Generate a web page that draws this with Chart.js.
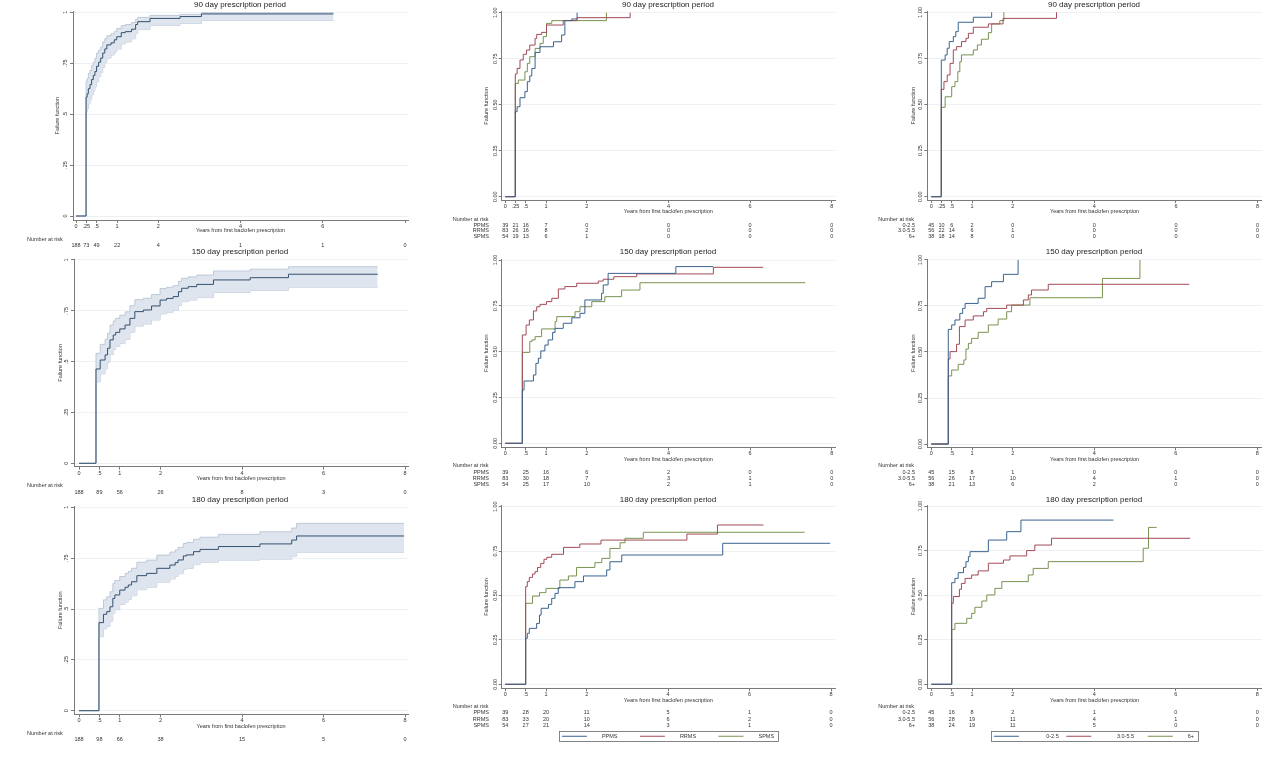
<!DOCTYPE html>
<html>
<head>
<meta charset="utf-8">
<title>Time to baclofen discontinuation</title>
<script src="https://cdn.jsdelivr.net/npm/chart.js@4.4.1/dist/chart.umd.min.js"></script>
<style>
  html, body { margin: 0; padding: 0; background: #fff; }
  body { width: 1280px; height: 759px; position: relative; overflow: hidden; }
  canvas { position: absolute; }
</style>
</head>
<body>
<script>
// ---- tick positions and labels ----
const ticks90 = [0, 0.25, 0.5, 1, 2, 4, 6, 8];
const tickLabels90 = ['0', '.25', '.5', '1', '2', '4', '6', '8'];
const tickLabels90First = ['0', '.25', '.5', '1', '2', '4', '6', ''];
const ticksLong = [0, 0.5, 1, 2, 4, 6, 8];
const tickLabelsLong = ['0', '.5', '1', '2', '4', '6', '8'];
const yTicks = [0, 0.25, 0.5, 0.75, 1];
const yLabelsShort = ['0', '.25', '.5', '.75', '1'];
const yLabelsLong = ['0.00', '0.25', '0.50', '0.75', '1.00'];
const titles = ['90 day prescription period', '150 day prescription period', '180 day prescription period'];
const msTypes = ['PPMS', 'RRMS', 'SPMS'];
const groups = ['0-2.5', '3.0-5.5', '6+'];

// ---- all patients (failure function with 95% CI) ----
const allTime90 = [0, 0.245, 0.27, 0.3, 0.34, 0.38, 0.42, 0.46, 0.5, 0.55, 0.6, 0.65, 0.7, 0.75, 0.85, 0.93, 0.99, 1.1, 1.2, 1.35, 1.45, 1.5, 1.8, 2.53, 3.05, 6.26];
const allFail90 = [0, .583, .6, .625, .645, .67, .69, .709, .735, .755, .775, .8, .82, .84, .85, .865, .88, .9, .905, .917, .94, .954, .97, .979, .992, .992];
const allHi90 = [0, .66, .675, .70, .715, .74, .755, .775, .80, .815, .83, .855, .87, .885, .895, .905, .92, .935, .94, .95, .965, .975, .985, .99, .998, .998];
const allLo90 = [0, .51, .525, .55, .57, .595, .615, .635, .66, .685, .705, .73, .755, .775, .79, .805, .82, .845, .855, .87, .895, .915, .935, .945, .96, .96];

const allTime150 = [0, .417, .52, .64, .7, .76, .84, .9, 1.0, 1.13, 1.25, 1.37, 1.58, 1.78, 1.99, 2.15, 2.31, 2.44, 2.52, 2.68, 2.89, 3.3, 4.2, 5.14, 7.33];
const allFail150 = [0, .464, .508, .533, .566, .607, .631, .644, .661, .68, .713, .746, .754, .774, .803, .811, .82, .844, .861, .869, .88, .902, .913, .93, .93];
const allHi150 = [0, .541, .585, .61, .64, .68, .70, .713, .728, .745, .775, .805, .812, .83, .86, .866, .874, .895, .91, .917, .926, .946, .955, .967, .967];
const allLo150 = [0, .40, .44, .465, .495, .535, .56, .575, .59, .61, .645, .675, .685, .705, .735, .743, .752, .777, .795, .803, .815, .84, .85, .866, .866];

const allTime180 = [0, .49, .6, .68, .76, .83, .88, 1.0, 1.13, 1.21, 1.29, 1.42, 1.66, 1.91, 2.23, 2.36, 2.43, 2.56, 2.64, 2.81, 2.97, 3.42, 4.44, 5.22, 5.34, 7.98];
const allFail180 = [0, .433, .474, .487, .511, .552, .569, .593, .607, .618, .634, .664, .675, .70, .716, .728, .741, .761, .766, .782, .793, .807, .82, .839, .859, .859];
const allHi180 = [0, .503, .545, .56, .585, .625, .64, .66, .675, .685, .70, .73, .74, .765, .78, .79, .803, .822, .827, .843, .853, .867, .88, .898, .921, .921];
const allLo180 = [0, .364, .402, .415, .44, .48, .497, .522, .535, .548, .565, .595, .607, .632, .648, .66, .673, .695, .70, .718, .73, .74, .745, .76, .779, .779];

// ---- by MS type ----
const ppmsTime90 = [0, .245, .29, .36, .48, .54, .6, .65, .73, .85, 1.18, 1.38, 1.46, 1.63, 1.76];
const ppmsFail90 = [0, .462, .489, .538, .571, .625, .656, .697, .784, .815, .842, .879, .957, .966, 1.0];
const rrmsTime90 = [0, .245, .29, .36, .44, .52, .6, .73, .77, .89, 1.01, 1.42, 1.76, 3.06];
const rrmsFail90 = [0, .667, .697, .743, .774, .797, .824, .86, .882, .893, .933, .957, .973, 1.0];
const spmsTime90 = [0, .245, .32, .48, .54, .6, .73, .85, .93, 1.01, 1.14, 2.48];
const spmsFail90 = [0, .616, .634, .679, .725, .761, .806, .833, .87, .942, .957, 1.0];

const ppmsTime150 = [0, .417, .46, .69, .75, .81, .87, .97, 1.05, 1.16, 1.22, 1.42, 1.63, 1.83, 1.95, 2.36, 2.4, 2.52, 4.18, 5.1];
const ppmsFail150 = [0, .291, .34, .373, .436, .464, .504, .536, .564, .605, .627, .655, .685, .709, .782, .818, .864, .927, .964, .964];
const rrmsTime150 = [0, .417, .51, .59, .69, .77, .85, 1.01, 1.14, 1.3, 1.46, 1.75, 2.28, 2.4, 2.66, 3.22, 5.1, 6.32];
const rrmsFail150 = [0, .591, .645, .673, .722, .745, .758, .773, .791, .842, .855, .873, .885, .895, .909, .924, .96, .96];
const spmsTime150 = [0, .417, .6, .65, .73, .89, 1.22, 1.26, 1.71, 1.83, 2.12, 2.44, 2.85, 3.3, 7.35];
const spmsFail150 = [0, .496, .555, .564, .582, .624, .664, .691, .718, .745, .773, .80, .836, .876, .876];

const ppmsTime180 = [0, .5, .54, .59, .77, .84, .88, 1.06, 1.14, 1.22, 1.3, 1.71, 1.92, 2.49, 2.57, 2.86, 5.34, 7.98];
const ppmsFail180 = [0, .259, .287, .315, .343, .39, .428, .45, .484, .512, .544, .578, .61, .644, .69, .728, .794, .794];
const rrmsTime180 = [0, .5, .54, .59, .67, .73, .79, .87, .95, 1.02, 1.14, 1.43, 1.83, 2.35, 4.46, 5.21, 6.34];
const rrmsFail180 = [0, .55, .578, .602, .621, .634, .658, .681, .704, .715, .732, .771, .79, .812, .846, .897, .897];
const spmsTime180 = [0, .5, .67, .84, 1.0, 1.34, 1.55, 1.75, 2.2, 2.37, 2.57, 2.82, 2.94, 3.39, 7.35];
const spmsFail180 = [0, .456, .497, .516, .54, .587, .61, .658, .685, .709, .765, .797, .822, .856, .856];

// ---- by group (0-2.5, 3.0-5.5, 6+) ----
const grp1Time90 = [0, .245, .34, .39, .44, .54, .6, .66, 1.03, 1.48];
const grp1Fail90 = [0, .741, .769, .805, .841, .868, .895, .946, .973, 1.0];
const grp2Time90 = [0, .245, .31, .39, .46, .54, .62, .74, .85, .91, 1.03, 1.4, 1.76, 3.07];
const grp2Fail90 = [0, .582, .624, .66, .723, .796, .814, .841, .859, .886, .919, .937, .967, 1.0];
const grp3Time90 = [0, .245, .34, .5, .58, .65, .7, .74, 1.03, 1.13, 1.23, 1.4, 1.48, 1.68, 1.78];
const grp3Fail90 = [0, .485, .542, .597, .624, .678, .732, .769, .796, .823, .854, .89, .937, .955, 1.0];

const grp1Time150 = [0, .417, .5, .58, .7, .77, .83, 1.15, 1.32, 1.48, 1.77, 2.13];
const grp1Fail150 = [0, .623, .647, .674, .71, .737, .764, .792, .855, .882, .922, 1.0];
const grp2Time150 = [0, .417, .46, .62, .69, .83, 1.03, 1.28, 1.36, 1.85, 2.26, 2.38, 2.46, 2.87, 6.33];
const grp2Fail150 = [0, .462, .502, .542, .638, .674, .696, .719, .737, .755, .783, .81, .837, .868, .868];
const grp3Time150 = [0, .417, .5, .66, .8, .85, .91, .99, 1.15, 1.4, 1.64, 1.85, 1.97, 2.42, 4.2, 5.12];
const grp3Fail150 = [0, .37, .402, .433, .457, .516, .547, .574, .607, .647, .679, .719, .755, .795, .9, 1.0];

const grp1Time180 = [0, .5, .58, .66, .79, .85, .91, .95, 1.4, 1.85, 2.2, 4.47];
const grp1Fail180 = [0, .57, .594, .626, .656, .688, .716, .744, .809, .856, .921, .921];
const grp2Time180 = [0, .5, .54, .69, .74, .83, .99, 1.15, 1.4, 1.77, 1.93, 2.34, 2.54, 2.95, 6.35];
const grp2Fail180 = [0, .454, .492, .533, .566, .594, .613, .636, .679, .697, .72, .75, .781, .819, .819];
const grp3Time180 = [0, .5, .58, .87, .99, 1.07, 1.24, 1.36, 1.56, 1.73, 2.38, 2.5, 2.87, 5.2, 5.33, 5.53];
const grp3Fail180 = [0, .308, .342, .37, .398, .432, .467, .501, .538, .576, .613, .65, .688, .763, .88, .88];

// ---- number at risk ----
const riskAll90 = [188, 73, 49, 22, 4, 1, 1, 0];
const riskAll150 = [188, 89, 56, 26, 8, 3, 0];
const riskAll180 = [188, 98, 66, 38, 15, 5, 0];
const riskPpms90 = [39, 21, 16, 7, 0, 0, 0, 0];
const riskRrms90 = [83, 26, 16, 8, 2, 0, 0, 0];
const riskSpms90 = [54, 19, 13, 6, 1, 0, 0, 0];
const riskPpms150 = [39, 25, 16, 6, 2, 0, 0];
const riskRrms150 = [83, 30, 18, 7, 3, 1, 0];
const riskSpms150 = [54, 25, 17, 10, 2, 1, 0];
const riskPpms180 = [39, 28, 20, 11, 5, 1, 0];
const riskRrms180 = [83, 33, 20, 10, 6, 2, 0];
const riskSpms180 = [54, 27, 21, 14, 3, 1, 0];
const riskGrp1_90 = [45, 10, 6, 2, 0, 0, 0, 0];
const riskGrp2_90 = [56, 22, 14, 6, 1, 0, 0, 0];
const riskGrp3_90 = [38, 18, 14, 8, 0, 0, 0, 0];
const riskGrp1_150 = [45, 15, 8, 1, 0, 0, 0];
const riskGrp2_150 = [56, 26, 17, 10, 4, 1, 0];
const riskGrp3_150 = [38, 21, 13, 6, 2, 0, 0];
const riskGrp1_180 = [45, 16, 8, 2, 1, 0, 0];
const riskGrp2_180 = [56, 28, 19, 11, 4, 1, 0];
const riskGrp3_180 = [38, 24, 19, 11, 5, 0, 0];

// ---- styles ----
const FONT = "'Liberation Sans', Arial, Helvetica, sans-serif";
const SMALL = 5.5;
const TITLE = 8;
const TEXT = '#333';
const AXIS = '#7a7a7a';
const MAIN = '#34506f';
const BLUE = '#3a628f';
const RED = '#a24a57';
const GREEN = '#7a9250';

Chart.defaults.font.family = FONT;
Chart.defaults.color = TEXT;

const measureCtx = document.createElement('canvas').getContext('2d');
const textWidth = (str, size) => {
    measureCtx.font = size + 'px ' + FONT;
    return measureCtx.measureText(str).width;
};

const toPoints = (times, values) => times.map((t, i) => ({ x: t, y: values[i] }));

const msSeries = (pt, pf, rt, rf, st, sf) => [
    { label: msTypes[0], time: pt, fail: pf, color: BLUE },
    { label: msTypes[1], time: rt, fail: rf, color: RED },
    { label: msTypes[2], time: st, fail: sf, color: GREEN }
];
const grpSeries = (at, af, bt, bf, ct, cf) => [
    { label: groups[0], time: at, fail: af, color: BLUE },
    { label: groups[1], time: bt, fail: bf, color: RED },
    { label: groups[2], time: ct, fail: cf, color: GREEN }
];

// page-pixel layout of each of the nine panels
const panels = [
    // row 1
    { left: 0, top: 0, width: 480, height: 250, title: titles[0], titleY: 5,
      plot: { left: 73, right: 408, top: 11.3, bottom: 220 }, x0: 76, x8: 405, y0: 216, y1: 12.3,
      xTickY: 226, xTitleY: 230.7, yTitleX: 57.3, yTickX: 65,
      xTicks: ticks90, xLabels: tickLabels90First, yLabels: yLabelsShort,
      series: [{ time: allTime90, fail: allFail90, hi: allHi90, lo: allLo90, color: MAIN }],
      risk: { labelX: 27, labelY: 239, rowY: [245], rows: [{ values: riskAll90 }] } },
    { left: 440, top: 0, width: 456, height: 250, title: titles[0], titleY: 5,
      plot: { left: 501.7, right: 835, top: 11.7, bottom: 200 }, x0: 505.3, x8: 831.7, y0: 196.7, y1: 12.7,
      xTickY: 206, xTitleY: 211.3, yTitleX: 486.7, yTickX: 495,
      xTicks: ticks90, xLabels: tickLabels90, yLabels: yLabelsLong,
      series: msSeries(ppmsTime90, ppmsFail90, rrmsTime90, rrmsFail90, spmsTime90, spmsFail90),
      risk: { labelX: 452.7, labelY: 219, nameRight: 489, rowY: [225, 230.7, 236.7],
              rows: [{ name: msTypes[0], values: riskPpms90 }, { name: msTypes[1], values: riskRrms90 }, { name: msTypes[2], values: riskSpms90 }] } },
    { left: 860, top: 0, width: 468, height: 250, title: titles[0], titleY: 5,
      plot: { left: 927.3, right: 1261.7, top: 11.3, bottom: 200 }, x0: 931.3, x8: 1257.5, y0: 196.7, y1: 12.3,
      xTickY: 206, xTitleY: 211.3, yTitleX: 913.3, yTickX: 920,
      xTicks: ticks90, xLabels: tickLabels90, yLabels: yLabelsLong,
      series: grpSeries(grp1Time90, grp1Fail90, grp2Time90, grp2Fail90, grp3Time90, grp3Fail90),
      risk: { labelX: 878.3, labelY: 219, nameRight: 915, rowY: [225, 230.7, 236.7],
              rows: [{ name: groups[0], values: riskGrp1_90 }, { name: groups[1], values: riskGrp2_90 }, { name: groups[2], values: riskGrp3_90 }] } },
    // row 2
    { left: 0, top: 245, width: 480, height: 252, title: titles[1], titleY: 251.7,
      plot: { left: 74, right: 408, top: 259, bottom: 466.7 }, x0: 79, x8: 405, y0: 463.3, y1: 260,
      xTickY: 473.3, xTitleY: 478.3, yTitleX: 60, yTickX: 66.5,
      xTicks: ticksLong, xLabels: tickLabelsLong, yLabels: yLabelsShort,
      series: [{ time: allTime150, fail: allFail150, hi: allHi150, lo: allLo150, color: MAIN }],
      risk: { labelX: 27, labelY: 485, rowY: [492.3], rows: [{ values: riskAll150 }] } },
    { left: 440, top: 245, width: 456, height: 252, title: titles[1], titleY: 251.7,
      plot: { left: 501.7, right: 835, top: 259, bottom: 447.3 }, x0: 505.3, x8: 831.7, y0: 443.3, y1: 260,
      xTickY: 453.3, xTitleY: 459, yTitleX: 486.7, yTickX: 495,
      xTicks: ticksLong, xLabels: tickLabelsLong, yLabels: yLabelsLong,
      series: msSeries(ppmsTime150, ppmsFail150, rrmsTime150, rrmsFail150, spmsTime150, spmsFail150),
      risk: { labelX: 452.7, labelY: 465.7, nameRight: 489, rowY: [472.3, 478.3, 484.3],
              rows: [{ name: msTypes[0], values: riskPpms150 }, { name: msTypes[1], values: riskRrms150 }, { name: msTypes[2], values: riskSpms150 }] } },
    { left: 860, top: 245, width: 468, height: 252, title: titles[1], titleY: 251.7,
      plot: { left: 927.3, right: 1261.7, top: 259, bottom: 447.3 }, x0: 931.3, x8: 1257.3, y0: 444, y1: 260,
      xTickY: 453.3, xTitleY: 459, yTitleX: 913.3, yTickX: 920,
      xTicks: ticksLong, xLabels: tickLabelsLong, yLabels: yLabelsLong,
      series: grpSeries(grp1Time150, grp1Fail150, grp2Time150, grp2Fail150, grp3Time150, grp3Fail150),
      risk: { labelX: 878.3, labelY: 465.7, nameRight: 915, rowY: [472.3, 478.3, 484.3],
              rows: [{ name: groups[0], values: riskGrp1_150 }, { name: groups[1], values: riskGrp2_150 }, { name: groups[2], values: riskGrp3_150 }] } },
    // row 3
    { left: 0, top: 490, width: 480, height: 255, title: titles[2], titleY: 499.3,
      plot: { left: 74, right: 408, top: 506.3, bottom: 714.3 }, x0: 79, x8: 405, y0: 710.7, y1: 507.3,
      xTickY: 720, xTitleY: 726, yTitleX: 60, yTickX: 66.5,
      xTicks: ticksLong, xLabels: tickLabelsLong, yLabels: yLabelsShort,
      series: [{ time: allTime180, fail: allFail180, hi: allHi180, lo: allLo180, color: MAIN }],
      risk: { labelX: 27, labelY: 733.3, rowY: [739], rows: [{ values: riskAll180 }] } },
    { left: 440, top: 490, width: 456, height: 259, title: titles[2], titleY: 499.3,
      plot: { left: 501.7, right: 835, top: 505.7, bottom: 688.3 }, x0: 505.3, x8: 831, y0: 684.3, y1: 506.7,
      xTickY: 694, xTitleY: 700, yTitleX: 486.7, yTickX: 495,
      xTicks: ticksLong, xLabels: tickLabelsLong, yLabels: yLabelsLong,
      series: msSeries(ppmsTime180, ppmsFail180, rrmsTime180, rrmsFail180, spmsTime180, spmsFail180),
      risk: { labelX: 452.7, labelY: 706.7, nameRight: 489, rowY: [712.7, 719, 725],
              rows: [{ name: msTypes[0], values: riskPpms180 }, { name: msTypes[1], values: riskRrms180 }, { name: msTypes[2], values: riskSpms180 }] },
      legend: { padding: 22.4, pads: [[8, 0], [8, 0], [8, 0]] } },
    { left: 860, top: 490, width: 468, height: 259, title: titles[2], titleY: 499.3,
      plot: { left: 927.3, right: 1261.7, top: 505, bottom: 688 }, x0: 931.3, x8: 1257.3, y0: 684.3, y1: 506,
      xTickY: 694, xTitleY: 700, yTitleX: 913.3, yTickX: 920,
      xTicks: ticksLong, xLabels: tickLabelsLong, yLabels: yLabelsLong,
      series: grpSeries(grp1Time180, grp1Fail180, grp2Time180, grp2Fail180, grp3Time180, grp3Fail180),
      risk: { labelX: 878.3, labelY: 706.7, nameRight: 915, rowY: [712.7, 719, 725],
              rows: [{ name: groups[0], values: riskGrp1_180 }, { name: groups[1], values: riskGrp2_180 }, { name: groups[2], values: riskGrp3_180 }] },
      legend: { padding: 7.6, pads: [[16, 0], [15, 4], [8, 0]] } }
];

// Number-at-risk table and legend frame, drawn after the chart
const riskPlugin = (p) => ({
    id: 'riskTable',
    afterDraw(chart) {
        const ctx = chart.ctx;
        const xs = chart.scales.x;
        ctx.save();
        ctx.font = SMALL + 'px ' + FONT;
        ctx.fillStyle = TEXT;
        ctx.textBaseline = 'middle';
        ctx.textAlign = 'left';
        ctx.fillText('Number at risk', p.risk.labelX - p.left, p.risk.labelY - p.top);
        p.risk.rows.forEach((row, i) => {
            const y = p.risk.rowY[i] - p.top;
            if (row.name) {
                ctx.textAlign = 'right';
                ctx.fillText(row.name, p.risk.nameRight - p.left, y);
            }
            ctx.textAlign = 'center';
            row.values.forEach((n, j) => ctx.fillText(String(n), xs.getPixelForValue(p.xTicks[j]), y));
        });
        if (p.legend && chart.legend && chart.legend.legendHitBoxes.length) {
            const hb = chart.legend.legendHitBoxes;
            const l = Math.min(...hb.map(h => h.left)) - 3;
            const r = Math.max(...hb.map(h => h.left + h.width)) + 4;
            const t = hb[0].top - 2.25;
            ctx.strokeStyle = '#666';
            ctx.lineWidth = 0.8;
            ctx.strokeRect(Math.round(l) + 0.5, Math.round(t) + 0.5, Math.round(r - l), Math.round(hb[0].height + 4.5));
        }
        ctx.restore();
    }
});

const buildPanel = (p) => {
    const canvas = document.createElement('canvas');
    canvas.width = p.width;
    canvas.height = p.height;
    canvas.style.left = p.left + 'px';
    canvas.style.top = p.top + 'px';
    canvas.style.width = p.width + 'px';
    canvas.style.height = p.height + 'px';
    document.body.appendChild(canvas);

    const lhTitle = TITLE * 1.2;
    const lhSmall = SMALL * 1.2;
    const legendH = p.legend ? SMALL + p.legend.padding + 10 : 0;
    const scaleBottom = p.top + p.height - legendH;
    const pxYear = (p.x8 - p.x0) / 8;
    const pxUnit = p.y0 - p.y1;
    const widest = Math.max(...p.yLabels.map(s => textWidth(s, SMALL)));

    const datasets = [];
    p.series.forEach(s => {
        datasets.push({
            label: s.label || '',
            data: toPoints(s.time, s.fail),
            borderColor: s.color,
            borderWidth: 1,
            stepped: true,
            pointRadius: 0,
            fill: false
        });
    });
    p.series.forEach(s => {
        if (!s.hi) return;
        datasets.push({
            label: 'upper',
            data: toPoints(s.time, s.hi),
            borderColor: '#b3c0d1',
            backgroundColor: '#dfe5ee',
            borderWidth: 0.8,
            stepped: true,
            pointRadius: 0,
            fill: '+1'
        });
        datasets.push({
            label: 'lower',
            data: toPoints(s.time, s.lo),
            borderColor: '#b3c0d1',
            borderWidth: 0.8,
            stepped: true,
            pointRadius: 0,
            fill: false
        });
    });

    return new Chart(canvas.getContext('2d'), {
        type: 'line',
        data: { datasets },
        plugins: [riskPlugin(p)],
        options: {
            responsive: false,
            animation: false,
            events: [],
            layout: { padding: 0 },
            plugins: {
                title: {
                    display: true,
                    text: p.title,
                    color: '#222',
                    font: { size: TITLE, weight: 'normal' },
                    padding: { top: p.titleY - p.top - lhTitle / 2, bottom: p.plot.top - p.titleY - lhTitle / 2 }
                },
                legend: p.legend ? {
                    display: true,
                    position: 'bottom',
                    labels: {
                        usePointStyle: true,
                        pointStyle: 'line',
                        pointStyleWidth: 25,
                        boxHeight: SMALL,
                        padding: p.legend.padding,
                        color: TEXT,
                        font: { size: SMALL },
                        generateLabels: chart => Chart.defaults.plugins.legend.labels.generateLabels(chart).map((item, i) => {
                            item.text = ' '.repeat(p.legend.pads[i][0]) + item.text + ' '.repeat(p.legend.pads[i][1]);
                            return item;
                        })
                    }
                } : { display: false },
                tooltip: { enabled: false }
            },
            scales: {
                x: {
                    type: 'linear',
                    min: (p.plot.left - p.x0) / pxYear,
                    max: 8 + (p.plot.right - p.x8) / pxYear,
                    afterBuildTicks: scale => { scale.ticks = p.xTicks.map(v => ({ value: v })); },
                    afterFit: scale => {
                        scale.height = scaleBottom - p.plot.bottom;
                        scale.paddingLeft = 0;
                        scale.paddingRight = p.left + p.width - p.plot.right;
                    },
                    ticks: {
                        autoSkip: false,
                        minRotation: 0,
                        maxRotation: 0,
                        padding: p.xTickY - p.plot.bottom - 3 - lhSmall / 2,
                        color: TEXT,
                        font: { size: SMALL },
                        callback: (v, i) => p.xLabels[i]
                    },
                    grid: { drawOnChartArea: false, tickLength: 3, tickColor: AXIS },
                    border: { color: AXIS, width: 1 },
                    title: {
                        display: true,
                        text: 'Years from first baclofen prescription',
                        color: TEXT,
                        font: { size: SMALL },
                        padding: { top: 0, bottom: scaleBottom - p.xTitleY - lhSmall / 2 }
                    }
                },
                y: {
                    min: -(p.plot.bottom - p.y0) / pxUnit,
                    max: 1 + (p.y1 - p.plot.top) / pxUnit,
                    afterBuildTicks: scale => { scale.ticks = yTicks.map(v => ({ value: v })); },
                    afterFit: scale => {
                        scale.width = p.plot.left - p.left;
                        scale.paddingTop = 0;
                        scale.paddingBottom = 0;
                    },
                    ticks: {
                        minRotation: 90,
                        maxRotation: 90,
                        crossAlign: 'center',
                        padding: p.plot.left - p.yTickX - 3 - widest / 2,
                        color: TEXT,
                        font: { size: SMALL },
                        callback: (v, i) => p.yLabels[i]
                    },
                    grid: { color: '#edf1f4', tickLength: 3, tickColor: AXIS },
                    border: { color: AXIS, width: 1 },
                    title: {
                        display: true,
                        text: 'Failure function',
                        color: TEXT,
                        font: { size: SMALL },
                        padding: { top: p.yTitleX - p.left - lhSmall / 2, bottom: 0 }
                    }
                }
            }
        }
    });
};

document.addEventListener('DOMContentLoaded', () => {
    panels.forEach(buildPanel);
});
</script>
</body>
</html>
